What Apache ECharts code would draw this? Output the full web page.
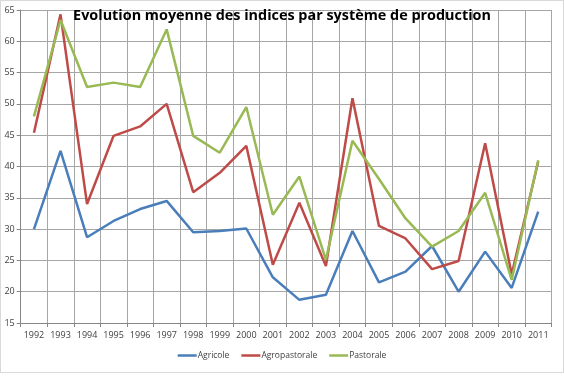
<!DOCTYPE html>
<html><head><meta charset="utf-8">
<script src="https://cdn.jsdelivr.net/npm/echarts@6/dist/echarts.min.js"></script>
<style>
html,body{margin:0;padding:0;background:#fff;}
#c{width:564px;height:378px;position:relative;}
#frame{position:absolute;left:0;top:0;width:562px;height:371px;border:1px solid #d9d9d9;pointer-events:none;}
</style></head>
<body><div id="c"></div><div id="frame"></div>
<script>
const years = ['1992','1993','1994','1995','1996','1997','1998','1999','2000','2001','2002','2003','2004','2005','2006','2007','2008','2009','2010','2011'];
const agricole = [30.0,42.5,28.7,31.3,33.2,34.5,29.5,29.7,30.1,22.3,18.7,19.5,29.7,21.5,23.2,27.3,20.0,26.4,20.6,32.8];
const agropastorale = [45.4,64.3,34.0,44.9,46.4,50.0,35.9,39.0,43.3,24.3,34.2,24.1,50.9,30.5,28.5,23.6,24.9,43.7,22.8,40.8];
const pastorale = [48.0,63.4,52.7,53.4,52.7,61.9,44.9,42.2,49.5,32.3,38.4,25.1,44.1,38.0,31.7,27.2,29.7,35.8,21.9,41.0];
const yTicks = {min:15, max:65, interval:5};
const titleText = 'Evolution moyenne des indices par système de production';

const chart = echarts.init(document.getElementById('c'), null, {renderer:'canvas'});
const mk = (name, data, color) => ({
  name, type:'line', data, symbol:'none', smooth:false,
  lineStyle:{width:2.5, color}, itemStyle:{color}, animation:false
});
chart.setOption({
  animation:false,
  textStyle:{fontFamily:'"Open Sans", sans-serif'},
  title:{text:titleText, left:'center', top:4,
    textStyle:{fontSize:14.4, fontWeight:'bold', color:'#000', fontFamily:'"Open Sans", sans-serif'}},
  grid:{left:20.7, right:12.5, top:10, bottom:55, containLabel:false},
  legend:{bottom:13, left:'center', itemWidth:19, itemHeight:2.5, itemGap:12, icon:'rect',
    textStyle:{fontSize:8.5, color:'#404040', padding:[0,0,0,-4]},
    data:['Agricole','Agropastorale','Pastorale']},
  xAxis:{type:'category', data:years, boundaryGap:true,
    axisLine:{lineStyle:{color:'#868686', width:1}},
    axisTick:{show:true, length:4, lineStyle:{color:'#868686'}},
    axisLabel:{fontSize:9, color:'#404040', margin:8, interval:0},
    splitLine:{show:true, interval:0, lineStyle:{color:'#a6a6a6', width:1}}},
  yAxis:{type:'value', min:yTicks.min, max:yTicks.max, interval:yTicks.interval,
    axisLine:{show:true, lineStyle:{color:'#868686'}},
    axisTick:{show:true, length:4, lineStyle:{color:'#868686'}},
    axisLabel:{fontSize:9, color:'#404040', margin:6},
    splitLine:{show:true, lineStyle:{color:'#a6a6a6', width:1}}},
  series:[
    mk('Agricole', agricole, '#4A7EBB'),
    mk('Agropastorale', agropastorale, '#BE4B48'),
    mk('Pastorale', pastorale, '#98B954')
  ]
});
</script></body></html>
